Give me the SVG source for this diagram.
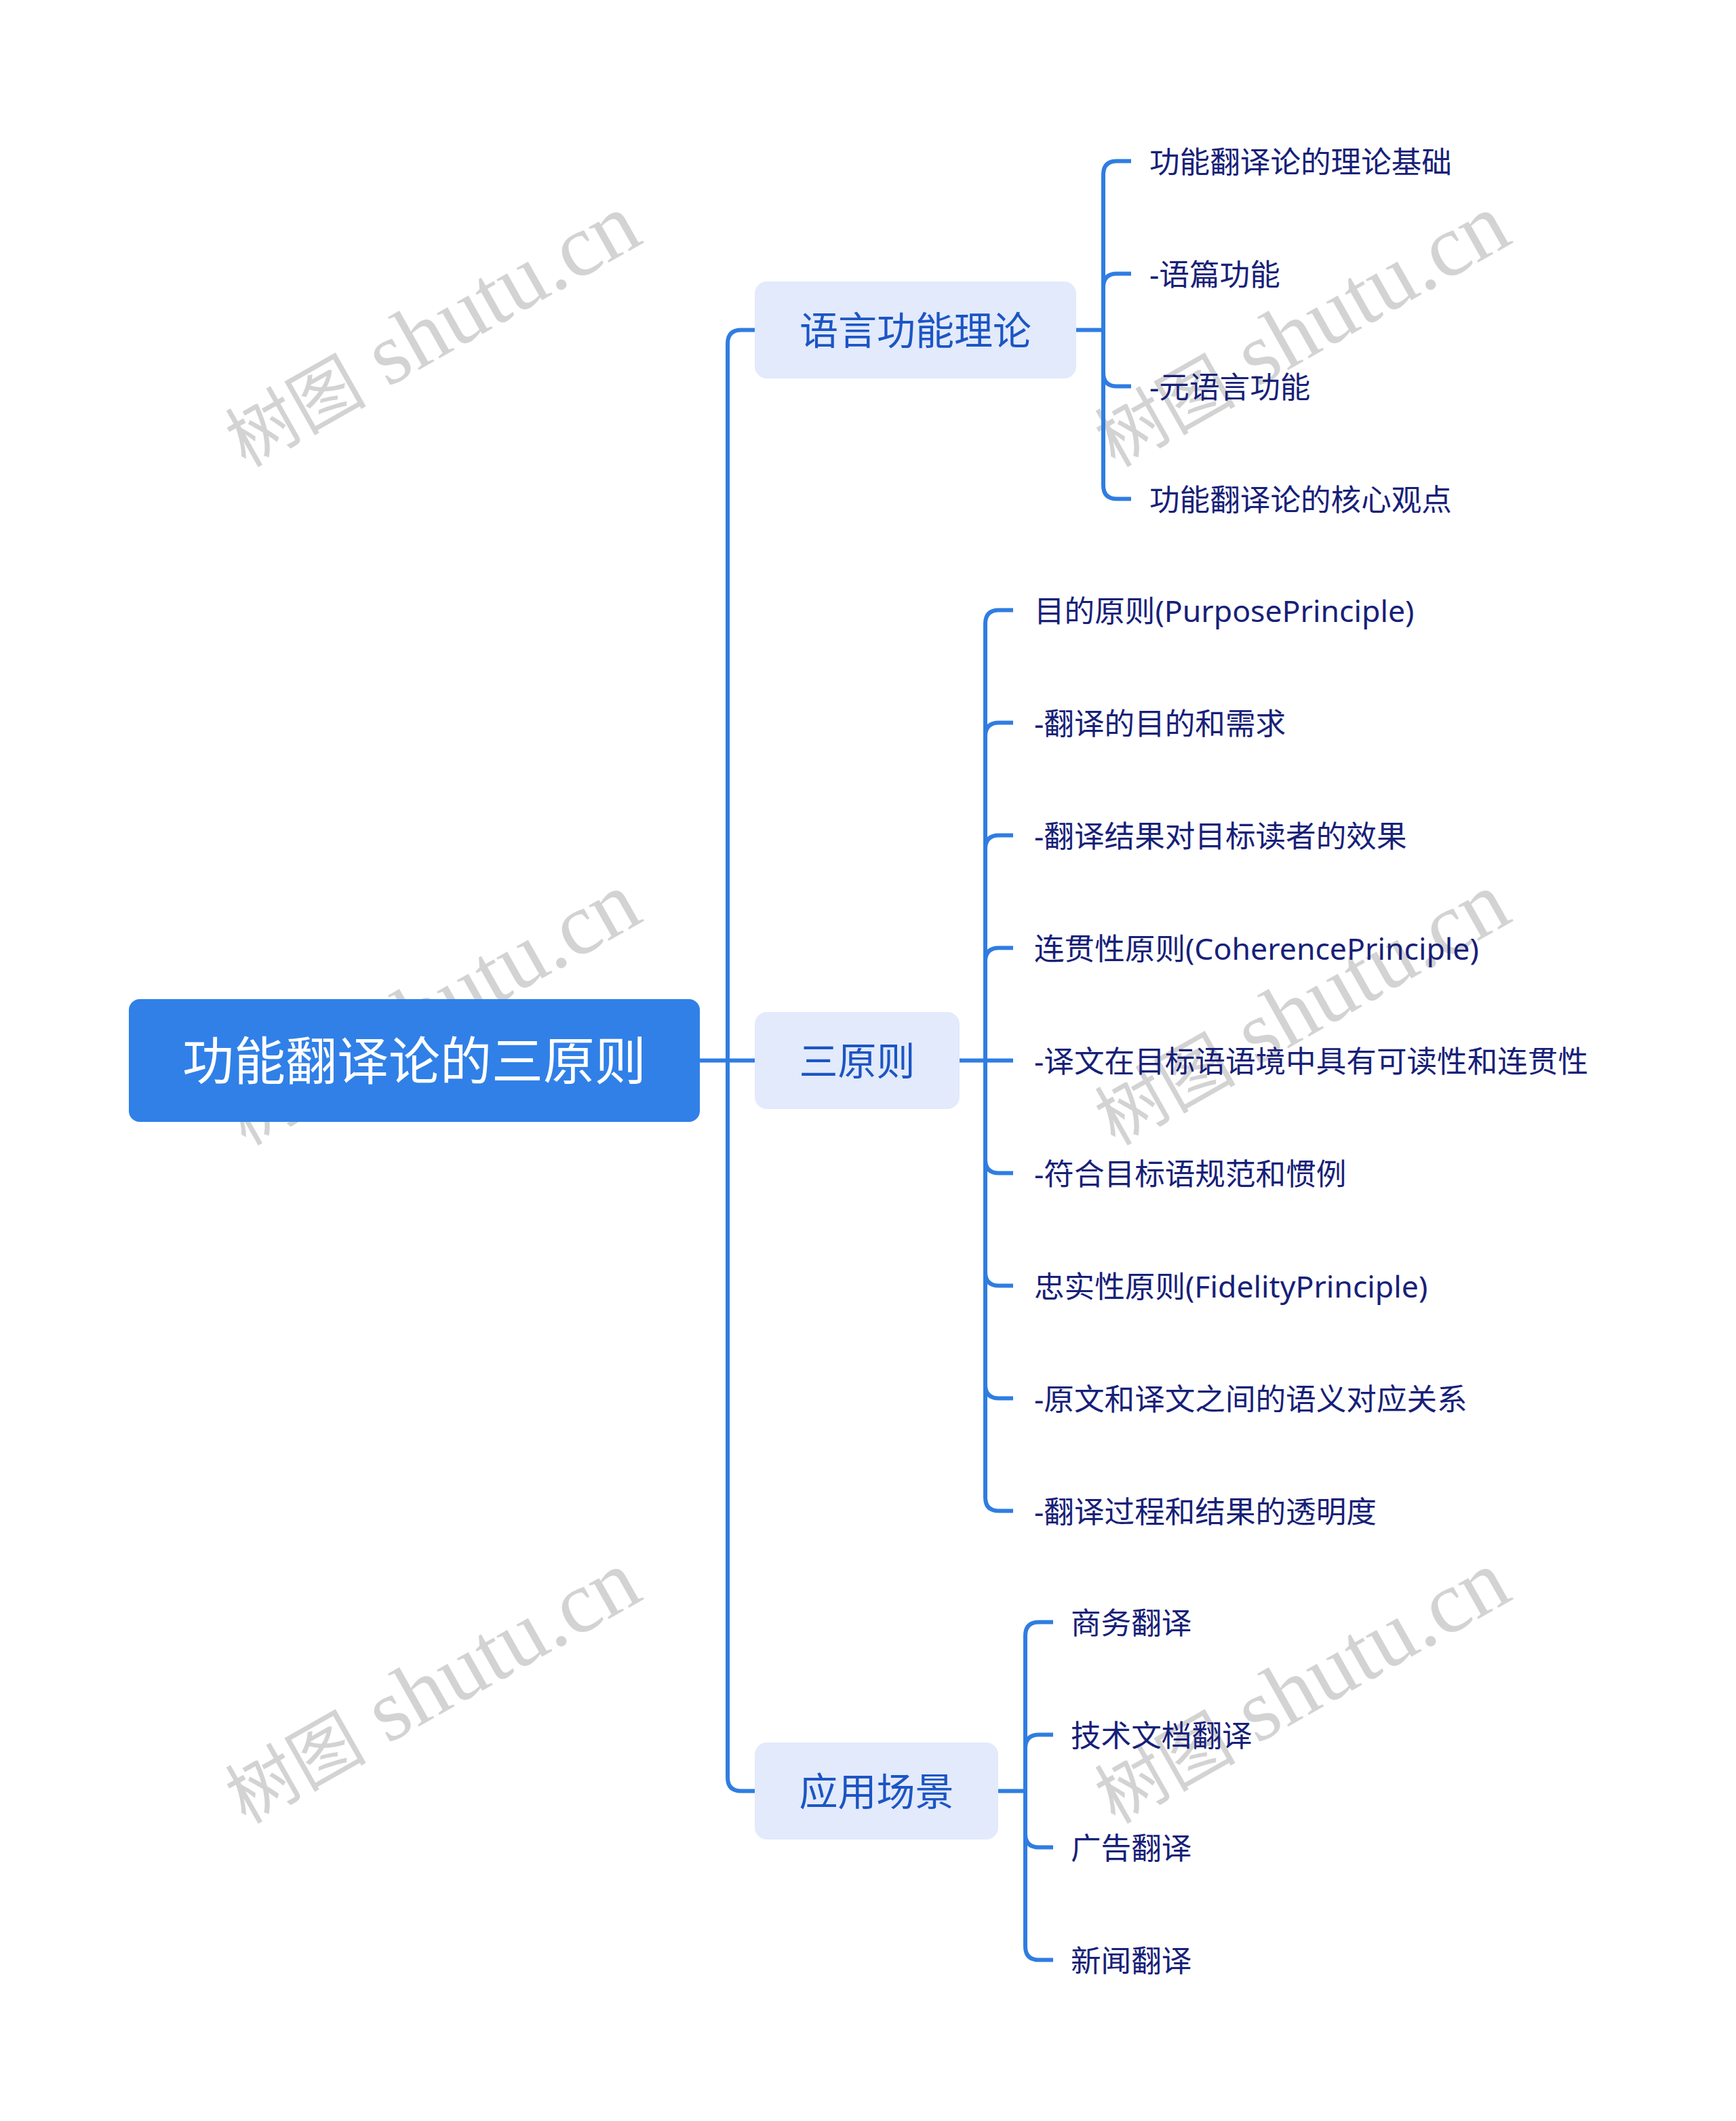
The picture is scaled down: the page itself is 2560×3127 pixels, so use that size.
<svg xmlns="http://www.w3.org/2000/svg" width="2560" height="3127" viewBox="0 0 2560 3127">
<style>
.wm{fill:#c4c4c4;fill-opacity:0.75}
.wmc{font-family:"Noto Sans CJK SC","Noto Sans CJK TC",serif;font-size:104px}
.wml{font-family:"Liberation Serif",serif;font-size:130px}
.conn{fill:none;stroke:#2F7DE1;stroke-width:6;stroke-linecap:butt}
.root{fill:#3080E8}
.roott{fill:#FFFFFF;font-family:"Noto Sans","Noto Sans CJK SC",sans-serif;font-size:76px;text-anchor:middle}
.mid{fill:#E2EAFB}
.midt{fill:#1C55C4;font-family:"Noto Sans","Noto Sans CJK SC",sans-serif;font-size:57px;text-anchor:middle}
.leaf{fill:#172178;font-family:"Noto Sans","Noto Sans CJK SC",sans-serif;font-size:44.6px}
</style>
<rect width="2560" height="3127" fill="#FFFFFF"/>
<g id="watermarks" class="wm">
<text transform="translate(362,690) rotate(-29.5)"><tspan class="wmc">树图</tspan><tspan class="wml"> shutu.cn</tspan></text>
<text transform="translate(1644,690) rotate(-29.5)"><tspan class="wmc">树图</tspan><tspan class="wml"> shutu.cn</tspan></text>
<text transform="translate(362,1690) rotate(-29.5)"><tspan class="wmc">树图</tspan><tspan class="wml"> shutu.cn</tspan></text>
<text transform="translate(1644,1690) rotate(-29.5)"><tspan class="wmc">树图</tspan><tspan class="wml"> shutu.cn</tspan></text>
<text transform="translate(362,2690) rotate(-29.5)"><tspan class="wmc">树图</tspan><tspan class="wml"> shutu.cn</tspan></text>
<text transform="translate(1644,2690) rotate(-29.5)"><tspan class="wmc">树图</tspan><tspan class="wml"> shutu.cn</tspan></text>
</g>
<g id="connectors" class="conn">
<path d="M1032,1563.5 H1113"/>
<path d="M1113,486.5 H1093 Q1073,486.5 1073,506.5 V2620.5 Q1073,2640.5 1093,2640.5 H1113"/>
<path d="M1587,486.5 H1627"/>
<path d="M1668,237.5 H1647 Q1627,237.5 1627,257.5 V715.5 Q1627,735.5 1647,735.5 H1668"/>
<path d="M1627,423.5 Q1627,403.5 1647,403.5 H1668"/>
<path d="M1627,549.5 Q1627,569.5 1647,569.5 H1668"/>
<path d="M1415,1563.5 H1494"/>
<path d="M1494,899.5 H1473 Q1453,899.5 1453,919.5 V2207.5 Q1453,2227.5 1473,2227.5 H1494"/>
<path d="M1453,1085.5 Q1453,1065.5 1473,1065.5 H1494"/>
<path d="M1453,1251.5 Q1453,1231.5 1473,1231.5 H1494"/>
<path d="M1453,1417.5 Q1453,1397.5 1473,1397.5 H1494"/>
<path d="M1453,1709.5 Q1453,1729.5 1473,1729.5 H1494"/>
<path d="M1453,1875.5 Q1453,1895.5 1473,1895.5 H1494"/>
<path d="M1453,2041.5 Q1453,2061.5 1473,2061.5 H1494"/>
<path d="M1472,2640.5 H1512"/>
<path d="M1553,2391.5 H1532 Q1512,2391.5 1512,2411.5 V2869.5 Q1512,2889.5 1532,2889.5 H1553"/>
<path d="M1512,2577.5 Q1512,2557.5 1532,2557.5 H1553"/>
<path d="M1512,2703.5 Q1512,2723.5 1532,2723.5 H1553"/>
</g>
<g id="node-root">
<rect class="root" x="190" y="1473" width="842" height="181" rx="16"/>
<text class="roott" x="611" y="1592">功能翻译论的三原则</text>
</g>
<g id="node-yuyan">
<rect class="mid" x="1113" y="415" width="474" height="143" rx="18"/>
<text class="midt" x="1350" y="508">语言功能理论</text>
</g>
<g id="node-sanyuanze">
<rect class="mid" x="1113" y="1492" width="302" height="143" rx="18"/>
<text class="midt" x="1264" y="1585">三原则</text>
</g>
<g id="node-yingyong">
<rect class="mid" x="1113" y="2569" width="359" height="143" rx="18"/>
<text class="midt" x="1292.5" y="2662">应用场景</text>
</g>
<g id="leaf-1-1"><text class="leaf" x="1695" y="254.5">功能翻译论的理论基础</text></g>
<g id="leaf-1-2"><text class="leaf" x="1695" y="420.5">-语篇功能</text></g>
<g id="leaf-1-3"><text class="leaf" x="1695" y="586.5">-元语言功能</text></g>
<g id="leaf-1-4"><text class="leaf" x="1695" y="752.5">功能翻译论的核心观点</text></g>
<g id="leaf-2-1"><text class="leaf" x="1525" y="916.5">目的原则(PurposePrinciple)</text></g>
<g id="leaf-2-2"><text class="leaf" x="1525" y="1082.5">-翻译的目的和需求</text></g>
<g id="leaf-2-3"><text class="leaf" x="1525" y="1248.5">-翻译结果对目标读者的效果</text></g>
<g id="leaf-2-4"><text class="leaf" x="1525" y="1414.5">连贯性原则(CoherencePrinciple)</text></g>
<g id="leaf-2-5"><text class="leaf" x="1525" y="1580.5">-译文在目标语语境中具有可读性和连贯性</text></g>
<g id="leaf-2-6"><text class="leaf" x="1525" y="1746.5">-符合目标语规范和惯例</text></g>
<g id="leaf-2-7"><text class="leaf" x="1525" y="1912.5">忠实性原则(FidelityPrinciple)</text></g>
<g id="leaf-2-8"><text class="leaf" x="1525" y="2078.5">-原文和译文之间的语义对应关系</text></g>
<g id="leaf-2-9"><text class="leaf" x="1525" y="2244.5">-翻译过程和结果的透明度</text></g>
<g id="leaf-3-1"><text class="leaf" x="1579" y="2408.5">商务翻译</text></g>
<g id="leaf-3-2"><text class="leaf" x="1579" y="2574.5">技术文档翻译</text></g>
<g id="leaf-3-3"><text class="leaf" x="1579" y="2740.5">广告翻译</text></g>
<g id="leaf-3-4"><text class="leaf" x="1579" y="2906.5">新闻翻译</text></g>
</svg>
